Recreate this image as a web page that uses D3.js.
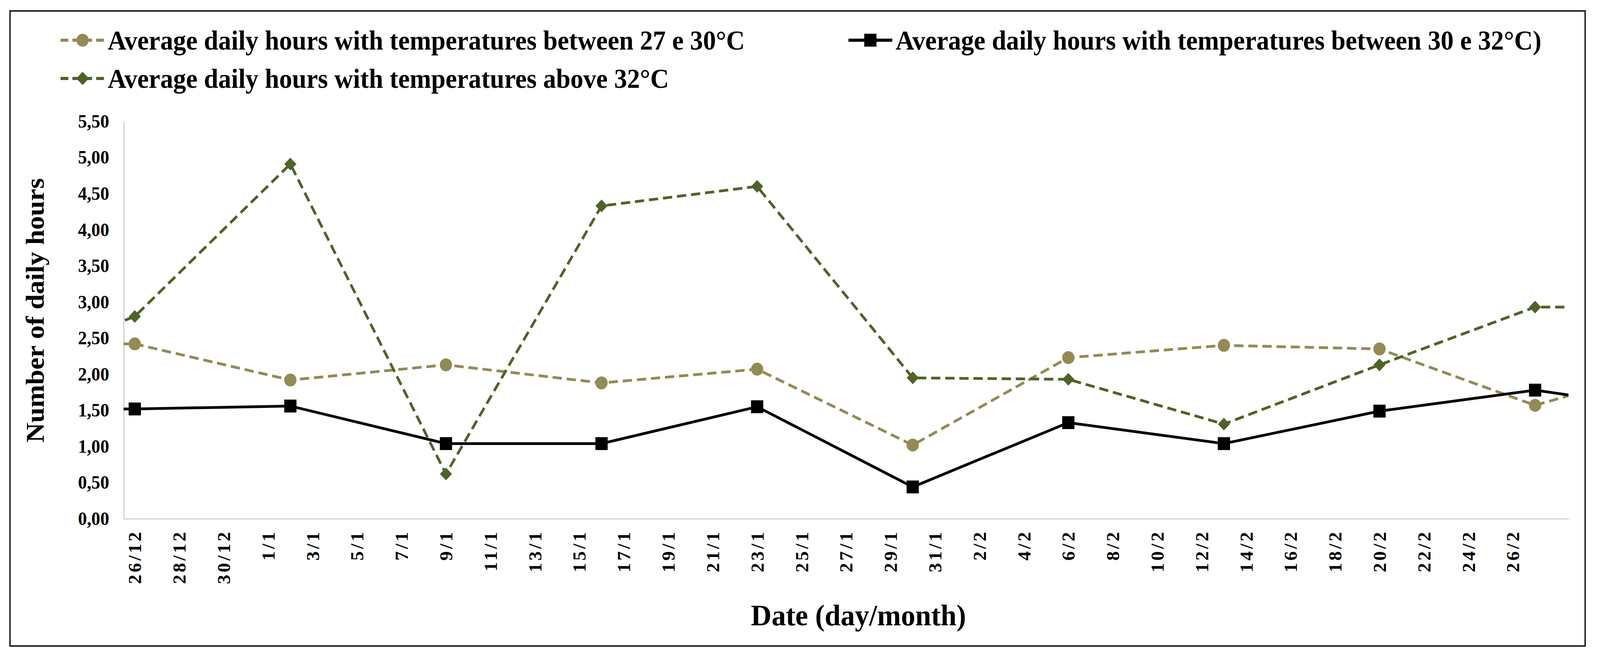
<!DOCTYPE html>
<html>

<head>
  <meta charset="utf-8">
  <title>Average daily hours by temperature range</title>
  <script src="https://d3js.org/d3.v7.min.js"></script>
  <style>
    html, body { margin: 0; padding: 0; background: #fff; overflow: hidden; }
    svg { display: block; }
    text { font-family: "Times New Roman", "Liberation Serif", serif; font-weight: bold; }
  </style>
</head>

<body>
  <script>
  // 1. data (weekly values). first and last entries are outside the axis range,
  // only the line stubs at the plot edges show them
  var dates = ["2017-12-19", "2017-12-26", "2018-01-02", "2018-01-09", "2018-01-16", "2018-01-23",
               "2018-01-30", "2018-02-06", "2018-02-13", "2018-02-20", "2018-02-27", "2018-03-06"];
  var hours27to30 = [2.42, 2.42, 1.92, 2.13, 1.88, 2.07, 1.02, 2.23, 2.40, 2.35, 1.57, 2.19];
  var hours30to32 = [1.52, 1.52, 1.56, 1.04, 1.04, 1.55, 0.44, 1.33, 1.04, 1.49, 1.78, 1.47];
  var hoursAbove32 = [1.97, 2.80, 4.91, 0.62, 4.33, 4.60, 1.95, 1.93, 1.31, 2.13, 2.93, 2.93];

  var seriesNames = ["Average daily hours with temperatures between 27 e 30°C",
                     "Average daily hours with temperatures between 30 e 32°C)",
                     "Average daily hours with temperatures above 32°C"];

  var xTickLabels = ["26/12", "28/12", "30/12", "1/1", "3/1", "5/1", "7/1", "9/1", "11/1", "13/1",
                     "15/1", "17/1", "19/1", "21/1", "23/1", "25/1", "27/1", "29/1", "31/1", "2/2",
                     "4/2", "6/2", "8/2", "10/2", "12/2", "14/2", "16/2", "18/2", "20/2", "22/2",
                     "24/2", "26/2"];
  var yTicks = [0, 0.5, 1, 1.5, 2, 2.5, 3, 3.5, 4, 4.5, 5, 5.5];

  var width = 4309;
  var height = 1696;
  var plot = { left: 333, right: 4224, top: 311, bottom: 1329 };

  var parse = d3.utcParse("%Y-%m-%d");
  var series = [
    { name: seriesNames[0], values: hours27to30, color: "#948A54", dash: "25,13", marker: "circle" },
    { name: seriesNames[1], values: hours30to32, color: "#000000", dash: null, marker: "square" },
    { name: seriesNames[2], values: hoursAbove32, color: "#4F6228", dash: "25,13", marker: "diamond" }
  ];

  // 2. svg (viewBox stretched to the window)
  var svg = d3.select("body").append("svg")
    .attr("viewBox", "0 0 " + width + " " + height)
    .attr("preserveAspectRatio", "none")
    .attr("width", "100vw").attr("height", "100vh");

  svg.append("rect")
    .attr("x", 27).attr("y", 28)
    .attr("width", 4269 - 27).attr("height", 1655 - 28)
    .attr("fill", "#fff").attr("stroke", "#222").attr("stroke-width", 4);

  // 3. scales
  var xScale = d3.scaleUtc()
    .domain([d3.utcHour.offset(parse("2017-12-26"), -12), d3.utcHour.offset(parse("2018-02-27"), 36)])
    .range([plot.left, plot.right]);
  var yScale = d3.scaleLinear()
    .domain([0, 5.5])
    .range([plot.bottom, plot.top]);

  var commaFormat = d3.formatLocale({ decimal: ",", thousands: ".", grouping: [3], currency: ["", ""] }).format(".2f");

  // 4. axes
  var yAxis = svg.append("g")
    .attr("transform", "translate(" + plot.left + ",0)")
    .call(d3.axisLeft(yScale).tickValues(yTicks).tickSize(0).tickPadding(39).tickFormat(commaFormat));
  yAxis.select(".domain").attr("stroke", "#d9d9d9").attr("stroke-width", 4);
  yAxis.selectAll("text").attr("font-size", "48px").attr("fill", "#000")
    .attr("font-family", "\"Times New Roman\", \"Liberation Serif\", serif");

  var xTickDates = xTickLabels.map(function(s) {
    var parts = s.split("/");
    var mon = parts[1] === "12" ? "2017-12-" : (parts[1] === "1" ? "2018-01-" : "2018-02-");
    var day = parts[0].length < 2 ? "0" + parts[0] : parts[0];
    return parse(mon + day);
  });

  var xAxis = svg.append("g")
    .attr("transform", "translate(0," + plot.bottom + ")")
    .call(d3.axisBottom(xScale).tickValues(xTickDates).tickSize(0)
      .tickFormat(function(d, i) { return xTickLabels[i]; }));
  xAxis.select(".domain").attr("stroke", "#d9d9d9").attr("stroke-width", 4);
  xAxis.selectAll("text")
    .attr("transform", "rotate(-90)")
    .attr("x", -28).attr("y", 0).attr("dy", "0.35em")
    .attr("text-anchor", "end")
    .attr("font-size", "48px").attr("letter-spacing", "6px").attr("fill", "#000")
    .attr("font-family", "\"Times New Roman\", \"Liberation Serif\", serif");

  svg.append("text")
    .attr("x", 2312).attr("y", 1602)
    .attr("text-anchor", "middle")
    .attr("font-size", "77px")
    .text("Date (day/month)");

  svg.append("text")
    .attr("transform", "translate(118,795) rotate(-90)")
    .attr("text-anchor", "middle")
    .attr("font-size", "70px")
    .text("Number of daily hours");

  // 5. lines
  svg.append("clipPath").attr("id", "plot-clip")
    .append("rect")
    .attr("x", plot.left).attr("y", plot.top - 20)
    .attr("width", plot.right - plot.left).attr("height", plot.bottom - plot.top + 20);

  var line = d3.line()
    .x(function(d, i) { return xScale(parse(dates[i])); })
    .y(function(d) { return yScale(d); });

  function markerPath(type) {
    if (type === "circle") return d3.symbol().type(d3.symbolCircle).size(Math.PI * 16.5 * 16.5)();
    if (type === "square") return d3.symbol().type(d3.symbolSquare).size(33 * 33)();
    return d3.symbol().type(d3.symbolSquare).size(23 * 23)();
  }

  series.forEach(function(s) {
    svg.append("path")
      .datum(s.values)
      .attr("clip-path", "url(#plot-clip)")
      .attr("fill", "none")
      .attr("stroke", s.color)
      .attr("stroke-width", 7)
      .attr("stroke-dasharray", s.dash)
      .attr("d", line);
  });

  series.forEach(function(s) {
    var pts = s.values.map(function(v, i) { return { date: parse(dates[i]), v: v }; })
      .filter(function(p, i) { return i > 0 && i < dates.length - 1; });
    svg.append("g").selectAll("path")
      .data(pts)
      .enter().append("path")
      .attr("d", markerPath(s.marker))
      .attr("fill", s.color)
      .attr("transform", function(p) {
        return "translate(" + xScale(p.date) + "," + yScale(p.v) + ")" + (s.marker === "diamond" ? " rotate(45)" : "");
      });
  });

  // 6. legend
  var legendPos = [
    { x1: 163, x2: 282, y: 103, tx: 290 },
    { x1: 2285, x2: 2403, y: 103, tx: 2412 },
    { x1: 163, x2: 282, y: 201, tx: 290 }
  ];

  series.forEach(function(s, i) {
    var p = legendPos[i];
    var g = svg.append("g");
    g.append("line")
      .attr("x1", p.x1).attr("x2", p.x2).attr("y1", p.y).attr("y2", p.y)
      .attr("stroke", s.color).attr("stroke-width", 8)
      .attr("stroke-dasharray", s.dash ? "21,11" : null);
    g.append("path")
      .attr("d", s.marker === "diamond" ? d3.symbol().type(d3.symbolSquare).size(24 * 24)() : markerPath(s.marker))
      .attr("fill", s.color)
      .attr("transform", "translate(" + (p.x1 + p.x2) / 2 + "," + p.y + ")" + (s.marker === "diamond" ? " rotate(45)" : ""));
    g.append("text")
      .attr("x", p.tx).attr("y", p.y + 24)
      .attr("font-size", "69.5px")
      .text(s.name);
  });

  </script>
</body>

</html>
